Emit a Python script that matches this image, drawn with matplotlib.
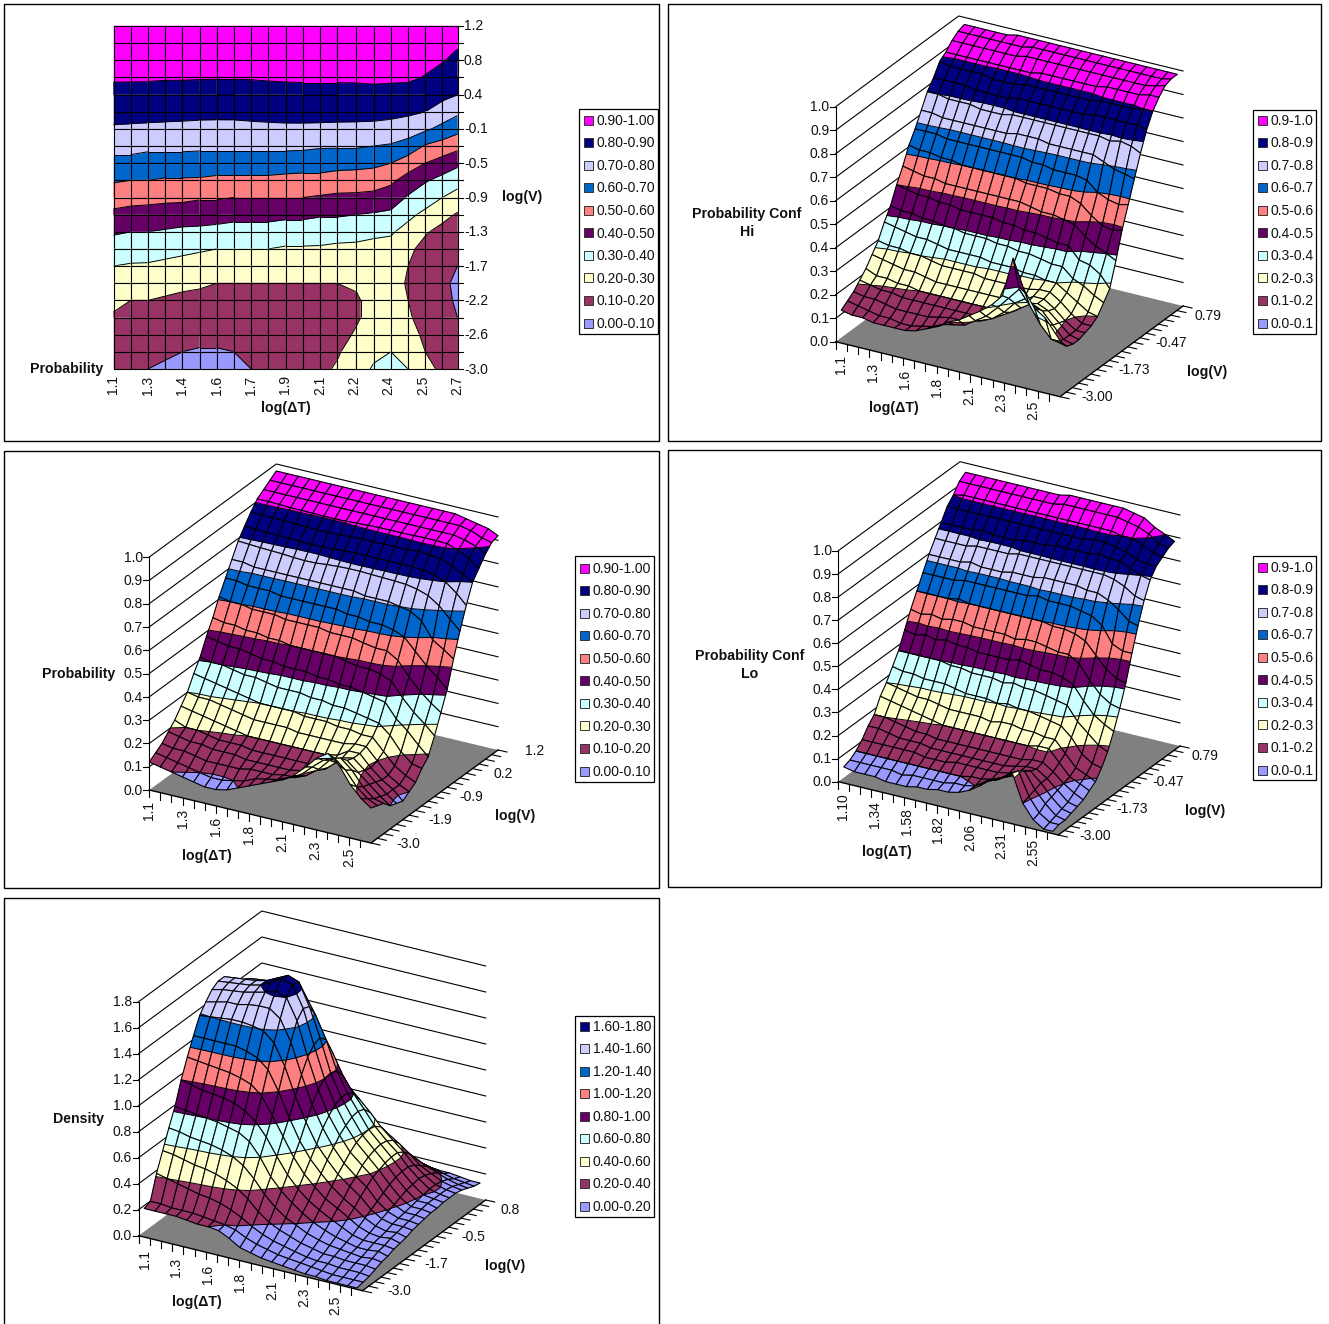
import numpy as np
import matplotlib
matplotlib.use("Agg")
from matplotlib import pyplot as plt
from matplotlib.collections import PolyCollection
from matplotlib.patches import Rectangle

plt.rcParams['font.family'] = ['Liberation Sans', 'DejaVu Sans']

# axis values
DT_VALUES = [1.10, 1.18, 1.26, 1.34, 1.42, 1.50, 1.58, 1.66, 1.74, 1.82, 1.90,
             1.98, 2.06, 2.14, 2.23, 2.31, 2.39, 2.47, 2.55, 2.63, 2.70]
V_VALUES = [-3.00, -2.79, -2.58, -2.37, -2.16, -1.95, -1.74, -1.53, -1.32, -1.11, -0.90,
            -0.69, -0.48, -0.27, -0.06, 0.15, 0.36, 0.57, 0.78, 0.99, 1.20]

BAND_COLORS = ['#9999FF', '#993366', '#FFFFCC', '#CCFFFF', '#660066',
               '#FF8080', '#0066CC', '#CCCCFF', '#000080', '#FF00FF']

# values in hundredths, first row is the top V (1.2), last row is V = -3.0
PROB = [
    [97,97,97,97,97,97,97,97,97,97,97,97,97,97,97,97,97,96,95,94,92],
    [95,95,95,95,95,95,95,95,95,95,95,95,95,95,95,95,95,95,94,92,91],
    [93,93,93,93,93,93,93,93,93,93,93,93,93,93,93,93,93,93,92,90.5,88],
    [91,91,90.9,90.6,90.6,90.5,90.4,90.4,90.5,90.8,91,91.2,91.2,91.2,91.3,91.5,91.4,91.3,89.6,87,84],
    [87.3,87.2,87.1,87,86.9,86.6,86.5,86.5,86.7,87,87.2,87.2,87.2,87.2,87.2,87.7,87.2,86.8,85,82.3,80],
    [83.3,83.1,82.9,82.7,82.6,82.4,82.3,82.3,82.6,82.9,83.1,83.2,83.1,83.1,83.1,83.1,82.7,81.7,80,76.2,72],
    [78.9,78.6,78.3,78.1,77.9,77.5,77.3,77.4,77.9,78.2,78.4,78.4,78.2,78,77.8,77.5,76.6,75,71.7,67,63],
    [73,73,72,72,72,72,72,72,72,72,72,72,71,71,71,70,69,66,59,56,53],
    [67,67,66,66,66,65,65,65,65,65,65,64,64,63,63,62,60,55,50,46,42],
    [61,60,60,59,59,59,58,58,58,58,57,57,57,56,55,55,52,46,41,37,34],
    [54,53,53,52,52,51,51,50,50,50,50,50,49,48,48,47,45,39,34,30,26],
    [48,47,46,46,45,44,44,43,43,43,42,42,41,41,40,39,38,32,28,23,19],
    [41,40,40,39,38,38,37,36,36,36,35,35,34,34,33,32,31,27,21,17,16],
    [36,35,34,33,32,31,30,30,30,30,29,29,29,28,28,27,27,22,17,14,12],
    [30,29,29,28,27,26,25,25,25,25,24,24,24,24,24,25,25,20,15,12,10],
    [26,25,24,23,22,21,20,20,20,20,20,20,20,20,21,24,24,19,15,12,8],
    [22,20,20,19,18,18,18,17,17,17,17,17,17,18,19,23,24,20,16,12,9],
    [19,18,17,17,16,16,16,15,15,15,15,15,16,17,19,23,25,21,17,13,10],
    [16,15,15,14,13,13,13,13,14,14,14,15,15,17,21,26,28,24,18,14,13],
    [14,13,12,11,10,9,9,10,11,13,14,15,17,19,24,28,30,26,20,16,14],
    [12,11,10,9,8,7,7,8,10,12,14,16,18,21,26,31,34,30,23,18,15],
]

CONF_HI = [
    [97,97,97,97,97,98,98,98,98,98,98,98,98,98,98,98,98,98,98,98,98],
    [96,96,96,96,96,96,96,97,97,97,97,97,97,97,97,97,97,97,97,97,98],
    [94,94,94,94,94,94,94,95,95,95,95,95,95,95,95,95,95,95,95,96,97],
    [91,91,91,91,91,91,91,91,91,92,92,92,92,92,92,93,93,93,93,94,94],
    [89,88,88,88,88,87,87,87,88,88,88,88,88,88,88,89,89,89,89,90,90],
    [84,84,84,84,83,83,83,83,84,84,84,84,84,84,84,85,85,85,85,85,84],
    [80,80,79,79,79,78,78,78,79,79,79,79,79,79,79,79,79,78,79,78,76],
    [74,74,73,73,73,73,73,73,73,74,74,74,73,73,73,73,73,71,69,68,67],
    [68,68,68,67,67,67,67,67,67,67,67,66,66,65,65,65,64,60,58,57,58],
    [63,62,62,61,61,60,60,60,60,60,60,59,59,59,58,58,56,52,49,48,49],
    [56,55,54,54,53,53,53,53,53,53,53,53,52,51,51,50,49,45,42,40,38],
    [50,49,48,48,47,47,46,46,46,46,45,45,44,44,43,42,42,37,36,33,28],
    [43,42,42,41,41,40,40,39,39,39,38,38,37,37,36,35,35,31,29,26,24],
    [38,37,36,35,35,34,33,33,33,33,32,32,32,31,31,30,30,27,24,21,20],
    [32,31,31,30,30,29,28,28,28,28,27,27,27,27,27,28,28,25,21,18,18],
    [28,27,26,25,25,24,23,23,23,23,23,23,23,23,24,27,27,24,20,17,17],
    [24,22,22,21,21,20,20,20,20,20,20,20,20,21,22,26,27,25,21,17,16],
    [21,20,19,19,18,18,18,18,18,18,18,18,19,20,23,26,29,27,22,17,16],
    [18,17,17,16,15,15,15,15,16,17,17,18,19,21,25,30,33,30,24,18,17],
    [16,15,14,13,13,12,12,13,14,16,17,18,21,24,29,34,39,33,26,21,21],
    [14,13,13,12,12,12,12,13,15,17,20,22,25,28,32,37,54,42,35,32,27],
]

CONF_LO = [
    [96,96,96,96,96,96,96,96,96,96,97,97,97,97,97,97,96,95,92,90,88],
    [94,94,94,94,94,94,94,94,94,94,95,95,95,95,95,95,94,93,91,88,87],
    [90,91,91,91,91,91,91,91,91,91,91,91,91,91,91,91,90,90,88,86,85],
    [87,87,87,87,87,87,87,87,87,87,87,87,87,87,88,88,87,86,84,83,83],
    [82,82,82,82,83,82,82,82,83,83,83,84,84,84,84,85,84,84,82,80,79],
    [77,77,77,77,78,78,78,78,79,79,79,79,79,79,79,79,79,78,76,73,72],
    [72,72,72,72,73,72,72,72,73,73,73,74,74,74,74,73,73,71,68,64,63],
    [66,66,66,66,67,67,67,67,67,67,67,68,67,67,67,66,65,62,55,53,53],
    [60,60,60,60,61,60,60,60,60,60,60,60,60,59,59,58,56,51,46,43,42],
    [54,53,54,53,54,54,53,53,53,53,52,53,53,52,51,51,48,42,37,34,33],
    [47,46,47,46,47,46,46,45,45,45,45,46,45,44,44,43,41,35,30,27,25],
    [40,40,40,40,40,39,39,38,38,38,37,38,37,37,36,35,34,28,24,20,18],
    [35,34,34,33,33,33,32,31,31,31,30,31,30,30,29,28,27,23,17,14,13],
    [30,29,28,27,27,26,25,25,25,25,24,25,25,24,24,23,23,18,13,11,9],
    [26,25,24,23,22,21,20,20,20,20,20,20,20,20,20,21,21,16,11,9,7],
    [20,20,19,18,17,17,16,16,16,16,16,16,16,16,16,17,17,14,10,7,5],
    [17,17,16,15,15,15,14,14,14,14,14,14,14,14,15,16,16,13,9,5,4],
    [13,13,13,13,13,13,12,12,12,13,13,13,13,13,14,16,17,13,8,4,3],
    [10,10,10,10,10,10,10,10,10,10,10,11,11,12,14,16,19,12,7,3,2],
    [8,8,8,8,8,7,8,8,8,8,9,9,10,13,15,18,21,11,5,2,2],
    [7,6,6,6,5,5,5,6,6,7,7,8,10,13,17,19,22,10,4,1,1],
]

# one list per dT column, running from V = -3.0 up to V = 1.2
DENSITY = [
    [22,24,42,56,70,83,100,114,127,139,146,152,155,155,148,135,115,90,65,45,30],
    [22,24,40,55,69,82,98,113,127,140,148,154,156,156,151,138,117,92,66,46,30],
    [22,23,38,53,67,81,96,112,127,141,150,155,157,157,154,140,119,93,67,46,30],
    [22,23,36,51,66,80,95,111,127,142,150,156,158,158,155,142,120,94,67,46,29],
    [21,23,34,50,65,79,94,110,127,142,152,158,160,160,156,143,120,93,66,45,28],
    [20,22,33,48,63,77,92,108,125,141,153,160,164,164,158,143,118,90,64,43,27],
    [20,21,31,45,60,75,88,105,122,139,153,163,169,168,158,140,114,86,60,40,25],
    [19,20,28,41,55,70,82,98,115,132,147,160,166,165,152,132,106,79,55,37,23],
    [15,18,24,35,47,60,72,85,100,116,131,144,150,148,138,118,95,71,49,33,21],
    [10,14,19,27,37,47,59,71,82,95,108,118,124,126,121,108,89,66,46,31,20],
    [8,11,15,21,29,38,47,57,66,77,87,95,100,101,99,92,80,62,44,30,19],
    [6,9,12,17,23,31,38,46,54,62,71,77,82,84,84,80,72,57,41,28,18],
    [5,7,10,14,19,25,31,38,45,52,58,64,68,71,72,70,64,52,38,26,17],
    [4,6,8,11,15,20,26,31,37,43,48,53,57,59,60,59,55,47,35,24,16],
    [3,5,6,9,12,16,21,26,30,36,40,45,48,50,51,50,47,41,32,23,16],
    [2,4,5,7,10,13,17,21,25,30,34,38,40,42,43,43,40,35,28,21,15],
    [2,3,5,7,9,11,13,16,19,22,25,28,31,33,34,34,32,28,24,19,14],
    [1,2,4,6,8,9,11,13,15,17,19,21,23,25,26,27,26,24,21,17,14],
    [1,2,4,6,7,9,11,12,13,15,16,17,18,19,20,21,21,20,18,15,13],
    [1,2,4,6,8,10,11,13,14,15,16,17,18,19,19,19,19,18,16,14,12],
    [1,2,3,5,7,8,10,11,12,14,15,16,17,17,18,18,18,17,15,13,12],
]

LEGEND_P2 = ['0.0-0.1', '0.1-0.2', '0.2-0.3', '0.3-0.4', '0.4-0.5',
             '0.5-0.6', '0.6-0.7', '0.7-0.8', '0.8-0.9', '0.9-1.0']
LEGEND_P3 = ['0.00-0.10', '0.10-0.20', '0.20-0.30', '0.30-0.40', '0.40-0.50',
             '0.50-0.60', '0.60-0.70', '0.70-0.80', '0.80-0.90', '0.90-1.00']
LEGEND_D = ['0.00-0.20', '0.20-0.40', '0.40-0.60', '0.60-0.80', '0.80-1.00',
            '1.00-1.20', '1.20-1.40', '1.40-1.60', '1.60-1.80']

FS = 10
BLACK = (0, 0, 0, 1)
CLEAR = (0, 0, 0, 0)

fig = plt.figure(figsize=(13.29, 13.24), dpi=100)
ax = fig.add_axes([0, 0, 1, 1])
ax.set_xlim(0, 1329)
ax.set_ylim(1324, 0)
ax.axis('off')


def clip(pts, level, above):
    # cut a polygon of (i, j, z) points at a z level
    out = []
    n = len(pts)
    for k in range(n):
        a = pts[k]
        b = pts[(k + 1) % n]
        ina = a[2] >= level if above else a[2] <= level
        inb = b[2] >= level if above else b[2] <= level
        if ina:
            out.append(a)
        if ina != inb:
            t = (level - a[2]) / (b[2] - a[2])
            out.append((a[0] + t * (b[0] - a[0]), a[1] + t * (b[1] - a[1]), level))
    return out


def crossing(pts, level):
    found = []
    n = len(pts)
    for k in range(n):
        a = pts[k]
        b = pts[(k + 1) % n]
        if (a[2] >= level) != (b[2] >= level):
            t = (level - a[2]) / (b[2] - a[2])
            found.append((a[0] + t * (b[0] - a[0]), a[1] + t * (b[1] - a[1])))
    return found


def draw_surface(grid, levels, colors, org, ex, ey, ez, inset=0.0):
    # grid rows run from V = -3.0 upward
    grid = np.asarray(grid) / 100.0
    nj, ni = grid.shape
    xs = np.asarray(DT_VALUES)
    ys = np.asarray(V_VALUES)

    def project(p):
        return (org[0] + p[0] * ex[0] + p[1] * ey[0],
                org[1] + p[0] * ex[1] + p[1] * ey[1] + p[2] * ez)

    verts, faces, edges, widths = [], [], [], []
    u = inset + (1 - 2 * inset) * (xs - xs[0]) / (xs[-1] - xs[0])
    v = (ys - ys[0]) / (ys[-1] - ys[0])
    # far cells first
    for i in range(ni - 1):
        for j in range(nj - 2, -1, -1):
            quad = [(u[i], v[j], grid[j, i]), (u[i + 1], v[j], grid[j, i + 1]),
                    (u[i + 1], v[j + 1], grid[j + 1, i + 1]), (u[i], v[j + 1], grid[j + 1, i])]
            for b in range(len(colors)):
                part = clip(clip(quad, levels[b], True), levels[b + 1], False)
                if len(part) < 3:
                    continue
                col = matplotlib.colors.to_rgba(colors[b])
                verts.append([project(p) for p in part])
                faces.append(col)
                edges.append(col)
                widths.append(0.3)
            for lev in levels[1:-1]:
                seg = crossing(quad, lev)
                for s in range(0, len(seg) - 1, 2):
                    verts.append([project((seg[s][0], seg[s][1], lev)),
                                  project((seg[s + 1][0], seg[s + 1][1], lev))])
                    faces.append(CLEAR)
                    edges.append(BLACK)
                    widths.append(0.7)
            verts.append([project(p) for p in quad])
            faces.append(CLEAR)
            edges.append(BLACK)
            widths.append(0.8)
    ax.add_collection(PolyCollection(verts, facecolors=faces, edgecolors=edges,
                                     linewidths=widths, zorder=3))


def draw_legend(x0, y0, x1, y1, labels, colors, ys):
    ax.add_patch(Rectangle((x0, y0), x1 - x0, y1 - y0, fc='white', ec='black', lw=0.9, zorder=5))
    for lab, col, y in zip(labels, colors, ys):
        ax.add_patch(Rectangle((x0 + 5, y - 4.5), 9, 9, fc=col, ec='#333333', lw=0.7, zorder=6))
        ax.text(x0 + 17.5, y + 0.8, lab, fontsize=FS, va='center', ha='left', color='#111111', zorder=6)


def draw_3d(grid, levels, colors, org, ex, ey, ez, zticks, xlabs, vlabs, vstep, xoff, inset=0.0):
    left = org
    bottom = (org[0] + ex[0], org[1] + ex[1])
    right = (bottom[0] + ey[0], bottom[1] + ey[1])
    back = (org[0] + ey[0], org[1] + ey[1])
    ax.fill([left[0], bottom[0], right[0], back[0]], [left[1], bottom[1], right[1], back[1]],
            color='#808080', lw=0, zorder=1)
    ax.plot([left[0], bottom[0], right[0]], [left[1], bottom[1], right[1]], color='k', lw=1.0, zorder=2)
    ax.plot([org[0], org[0]], [org[1], org[1] + zticks[-1] * ez], color='k', lw=0.8, zorder=2)
    for zt in zticks:
        dy = zt * ez
        if zt > 0:
            ax.plot([left[0], back[0], right[0]], [left[1] + dy, back[1] + dy, right[1] + dy],
                    color='k', lw=0.8, zorder=2)
        ax.plot([org[0] - 6, org[0]], [org[1] + dy, org[1] + dy], color='k', lw=0.8, zorder=2)
        ax.text(org[0] - 6.5, org[1] + dy + 0.7, '%.1f' % zt, fontsize=FS, ha='right', va='center', color='#111111')
    # ticks on the two floor edges
    for i in range(20):
        px = org[0] + ex[0] * i / 20.0
        py = org[1] + ex[1] * i / 20.0
        ax.plot([px, px], [py, py + 7], color='k', lw=0.8, zorder=2)
        if i % 3 == 0:
            t = i / 18.0
            ax.text(px + xoff[0] + t * (xoff[2] - xoff[0]), py + xoff[1] + t * (xoff[3] - xoff[1]),
                    xlabs[i // 3], fontsize=FS, rotation=90, ha='center', va='center', color='#111111')
    for j in range(21):
        px = bottom[0] + ey[0] * j / 20.0
        py = bottom[1] + ey[1] * j / 20.0
        ax.plot([px, px + 9], [py, py + 2], color='k', lw=0.8, zorder=2)
        if j % vstep == 0:
            ax.text(px + 37, py + 0.7, vlabs[j // vstep], fontsize=FS, ha='center', va='center', color='#111111')
    draw_surface(grid, levels, colors, org, ex, ey, ez, inset)


def title(x, y, s):
    ax.text(x, y + 1, s, fontsize=10.2, fontweight='bold', ha='center', va='center', color='#111111', linespacing=1.3)


# panel frames
for x0, y0, x1, y1 in [(4, 4, 659, 441), (668, 4, 1321, 441), (4, 451, 659, 888),
                       (668, 450, 1321, 887), (4, 898, 659, 1330)]:
    ax.add_patch(Rectangle((x0, y0), x1 - x0, y1 - y0, fc='none', ec='black', lw=1.0))

LEVELS = [0.0, 0.1, 0.2, 0.3, 0.4, 0.5, 0.6, 0.7, 0.8, 0.9, 1.01]
LEVELS_D = [0.0, 0.2, 0.4, 0.6, 0.8, 1.0, 1.2, 1.4, 1.6, 1.81]
ZT = [0.0, 0.1, 0.2, 0.3, 0.4, 0.5, 0.6, 0.7, 0.8, 0.9, 1.0]
ZT_D = [0.0, 0.2, 0.4, 0.6, 0.8, 1.0, 1.2, 1.4, 1.6, 1.8]
XL = ['1.1', '1.3', '1.6', '1.8', '2.1', '2.3', '2.5']
XL_LO = ['1.10', '1.34', '1.58', '1.82', '2.06', '2.31', '2.55']
VL_CONF = ['-3.00', '-1.73', '-0.47', '0.79']
VL_P = ['-3.0', '-1.9', '-0.9', '0.2', '1.2']
VL_D = ['-3.0', '-1.7', '-0.5', '0.8']

prob_up = PROB[::-1]

# panel 1, the flat contour view of the probability surface
org1 = (113.5, 369.0)
draw_surface(prob_up, LEVELS, BAND_COLORS, org1, (344.0, 0.0), (0.0, -343.0), 0.0)
XL1 = ['1.1', '1.3', '1.4', '1.6', '1.7', '1.9', '2.1', '2.2', '2.4', '2.5', '2.7']
YL1 = ['-3.0', '-2.6', '-2.2', '-1.7', '-1.3', '-0.9', '-0.5', '-0.1', '0.4', '0.8', '1.2']
for k, lab in enumerate(XL1):
    ax.text(org1[0] + 344.0 * k / 10, 385, lab, fontsize=FS, rotation=90, ha='center', va='center', color='#111111')
for k in range(21):
    y = org1[1] - 343.0 * k / 20
    ax.plot([457.5, 463], [y, y], color='k', lw=0.8, zorder=2)
    if k % 2 == 0:
        ax.text(464, y + 0.5, YL1[k // 2], fontsize=FS, ha='left', va='center', color='#111111')
title(67, 368, 'Probability')
title(522, 196, 'log(V)')
title(286, 407, 'log(ΔT)')
draw_legend(579, 109, 658, 334, LEGEND_P3[::-1], BAND_COLORS[::-1], np.linspace(120, 323, 10))

# panel 2
draw_3d(CONF_HI[::-1], LEVELS, BAND_COLORS, (835.7, 341.7), (224.3, 55.0), (123.0, -90.7), -235.0,
        ZT, XL, VL_CONF, 6, (5, 23, -4.6, 19), inset=0.025)
title(747, 222, 'Probability Conf\nHi')
title(894, 407, 'log(ΔT)')
title(1207, 371, 'log(V)')
draw_legend(1253, 110, 1316, 334, LEGEND_P2[::-1], BAND_COLORS[::-1], np.linspace(120, 323, 10))

# panel 3
draw_3d(prob_up, LEVELS, BAND_COLORS, (149.3, 790.0), (221.7, 53.0), (127.0, -93.0), -233.0,
        ZT, XL, VL_P, 5, (0, 21, 0, 20))
title(79, 673, 'Probability')
title(207, 855, 'log(ΔT)')
title(515, 815, 'log(V)')
draw_legend(575, 556, 654, 782, LEGEND_P3[::-1], BAND_COLORS[::-1], np.linspace(568, 771, 10))

# panel 4
draw_3d(CONF_LO[::-1], LEVELS, BAND_COLORS, (838.3, 781.7), (220.0, 53.3), (121.7, -89.0), -231.0,
        ZT, XL_LO, VL_CONF, 6, (5, 25, -3, 23), inset=0.025)
title(750, 664, 'Probability Conf\nLo')
title(887, 851, 'log(ΔT)')
title(1205, 810, 'log(V)')
draw_legend(1253, 556, 1316, 780, LEGEND_P2[::-1], BAND_COLORS[::-1], np.linspace(567, 770, 10))

# panel 5
draw_3d(np.asarray(DENSITY).T, LEVELS_D, BAND_COLORS[:9], (138.6, 1235.7), (223.9, 55.0), (123.2, -90.7), -130.0,
        ZT_D, XL, VL_D, 6, (6, 24, -4.4, 20), inset=0.025)
title(79, 1118, 'Density')
title(197, 1301, 'log(ΔT)')
title(505, 1265, 'log(V)')
draw_legend(575, 1016, 654, 1217, LEGEND_D[::-1], BAND_COLORS[:9][::-1], np.linspace(1026, 1206, 9))

fig.savefig('out.png', dpi=100)
